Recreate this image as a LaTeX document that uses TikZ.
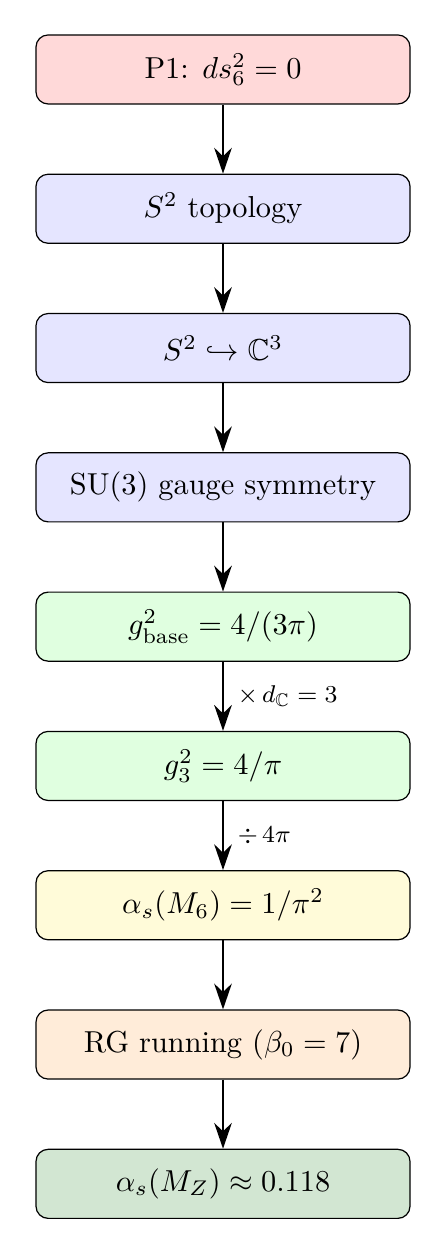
\documentclass[tikz,border=0pt]{standalone}
\usepackage{amsmath,amssymb}
\usetikzlibrary{arrows.meta,positioning}
\definecolor{cP}{RGB}{255,217,217}
\definecolor{cB}{RGB}{229,229,255}
\definecolor{cG}{RGB}{224,255,224}
\definecolor{cY}{RGB}{255,251,217}
\definecolor{cO}{RGB}{255,236,217}
\definecolor{cF}{RGB}{210,230,210}
\begin{document}
\begin{tikzpicture}[
  box/.style={draw=black, rounded corners=4pt, minimum width=4.334cm, minimum height=0.8cm, inner sep=2pt, align=center},
  flow/.style={-{Stealth[length=8.5pt,width=5.8pt]}, thick},
  lab/.style={right, font=\footnotesize, inner sep=3pt, xshift=1.5pt}
]
\useasboundingbox (0,0) rectangle (5.156,-14.519);
\node[box, fill=cP] (n1) at (2.584,-0.805) {P1: $ds_6^2 = 0$};
\node[box, fill=cB, below=0.8cm of n1] (n2) {$S^2$ topology};
\node[box, fill=cB, below=0.8cm of n2] (n3) {$S^2 \hookrightarrow \mathbb{C}^3$};
\node[box, fill=cB, below=0.8cm of n3] (n4) {SU(3) gauge symmetry};
\node[box, fill=cG, below=0.8cm of n4] (n5) {$g^2_{\text{base}} = 4/(3\pi)$};
\node[box, fill=cG, below=0.8cm of n5] (n6) {$g_3^2 = 4/\pi$};
\node[box, fill=cY, below=0.8cm of n6] (n7) {$\alpha_s(M_6) = 1/\pi^2$};
\node[box, fill=cO, below=0.8cm of n7] (n8) {RG running ($\beta_0 = 7$)};
\node[box, fill=cF, below=0.8cm of n8] (n9) {$\alpha_s(M_Z) \approx 0.118$};
\draw[flow] (n1) -- (n2);
\draw[flow] (n2) -- (n3);
\draw[flow] (n3) -- (n4);
\draw[flow] (n4) -- (n5);
\draw[flow] (n5) -- node[lab] {$\times\, d_{\mathbb{C}} = 3$} (n6);
\draw[flow] (n6) -- node[lab] {$\div\, 4\pi$} (n7);
\draw[flow] (n7) -- (n8);
\draw[flow] (n8) -- (n9);
\end{tikzpicture}
\end{document}
